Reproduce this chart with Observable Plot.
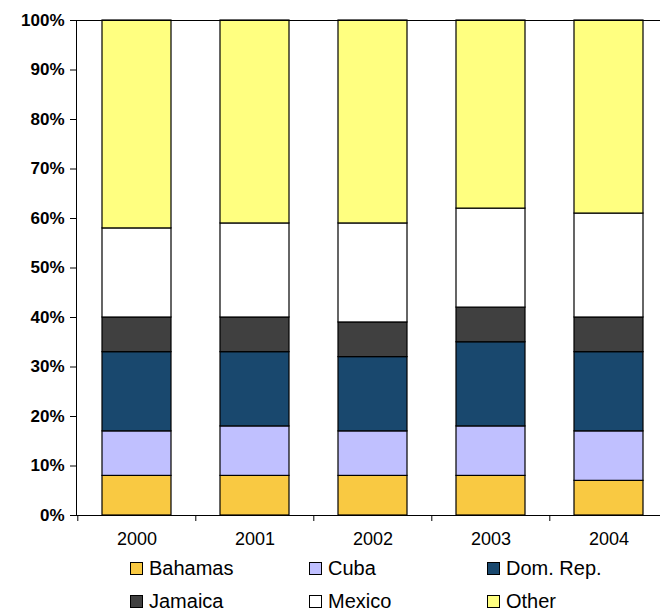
<!DOCTYPE html>
<html>
<head>
<meta charset="utf-8">
<script src="https://cdn.jsdelivr.net/npm/d3@7"></script>
<script src="https://cdn.jsdelivr.net/npm/@observablehq/plot@0.6"></script>
<style>
  body { margin: 0; background: #fff; overflow: hidden; font-family: "Liberation Sans", Arial, sans-serif; }
  #chart { position: relative; width: 660px; height: 612px; }
  #chart svg { display: block; }
  .legend { position: absolute; left: 0; top: 550px; width: 660px; height: 62px; }
  .item { position: absolute; display: flex; align-items: center; font-size: 20px; color: #000; line-height: 1; }
  .sw { width: 11px; height: 11px; border: 1px solid #000; margin-right: 6px; box-sizing: content-box; }
</style>
</head>
<body>
<div id="chart"></div>
<script>
// Share of arrivals by origin, 2000-2004 (percent of total)
const years = ["2000", "2001", "2002", "2003", "2004"];
const countries = ["Bahamas", "Cuba", "Dom. Rep.", "Jamaica", "Mexico", "Other"];
const colors = ["#F9C942", "#C0C0FF", "#19486E", "#404040", "#FFFFFF", "#FFFF80"];

const bahamas = [8, 8, 8, 8, 7];
const cuba = [9, 10, 9, 10, 10];
const domRep = [16, 15, 15, 17, 16];
const jamaica = [7, 7, 7, 7, 7];
const mexico = [18, 19, 20, 20, 21];
const other = [42, 41, 41, 38, 39];

const yTicks = [0, 10, 20, 30, 40, 50, 60, 70, 80, 90, 100];

const series = [bahamas, cuba, domRep, jamaica, mexico, other];
const rows = [];
countries.forEach((c, i) => {
  years.forEach((y, j) => rows.push({year: y, country: c, value: series[i][j]}));
});

const W = 660, H = 550, ML = 76, MR = -8;
const step = (W - ML - MR) / years.length;

const chart = Plot.plot({
  width: W,
  height: H,
  marginLeft: ML,
  marginRight: MR,
  marginTop: 20,
  marginBottom: 35,
  style: {fontFamily: "'Liberation Sans', Arial, sans-serif", overflow: "hidden", background: "#fff"},
  x: {domain: years, paddingInner: 0.417, paddingOuter: 0.2085, label: null},
  y: {domain: [0, 100], label: null},
  color: {domain: countries, range: colors},
  marks: [
    Plot.barY(rows, Plot.stackY({x: "year", y: "value", fill: "country", stroke: "#000", strokeWidth: 1.2})),
    Plot.axisY({ticks: yTicks, tickSize: 6, tickPadding: 6, tickFormat: d => d + "%",
      fontSize: 17, fontWeight: "bold", label: null}),
    // category boundary ticks
    Plot.axisX({tickSize: 6, tickFormat: () => "", dx: -step / 2, label: null}),
    // category labels
    Plot.axisX({tickSize: 0, tickPadding: 17, fontSize: 18, label: null}),
    Plot.frame({anchor: "left", stroke: "#000"}),
    Plot.ruleY([0], {stroke: "#000"}),
    Plot.ruleY([100], {stroke: "#000"})
  ]
});

const root = document.getElementById("chart");
root.appendChild(chart);

// legend in three columns, two rows
const legend = document.createElement("div");
legend.className = "legend";
const colX = [130, 309, 487];
const rowY = [8, 41];
countries.forEach((c, i) => {
  const item = document.createElement("div");
  item.className = "item";
  item.style.left = colX[i % 3] + "px";
  item.style.top = rowY[Math.floor(i / 3)] + "px";
  const sw = document.createElement("span");
  sw.className = "sw";
  sw.style.background = colors[i];
  const label = document.createElement("span");
  label.textContent = c;
  item.appendChild(sw);
  item.appendChild(label);
  legend.appendChild(item);
});
root.appendChild(legend);
</script>
</body>
</html>
